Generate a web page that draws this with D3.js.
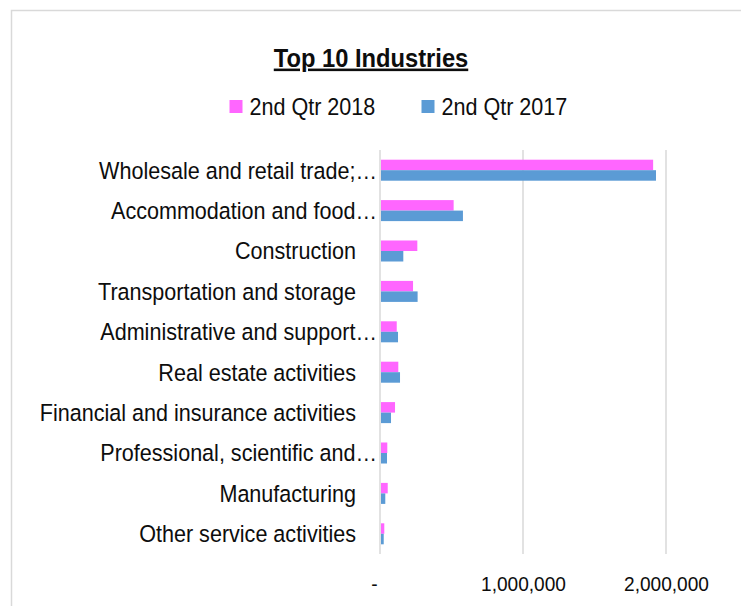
<!DOCTYPE html>
<html>
<head>
<meta charset="utf-8">
<script src="https://cdn.jsdelivr.net/npm/d3@7"></script>
<style>
  body { margin: 0; background: #fff; }
  svg { display: block; font-family: "Liberation Sans", Arial, sans-serif; }
</style>
</head>
<body>
<div id="chart"></div>
<script>
// industries, top to bottom
var industries = [
    "Wholesale and retail trade;\u2026",
    "Accommodation and food\u2026",
    "Construction",
    "Transportation and storage",
    "Administrative and support\u2026",
    "Real estate activities",
    "Financial and insurance activities",
    "Professional, scientific and\u2026",
    "Manufacturing",
    "Other service activities"
];
var seriesNames = ["2nd Qtr 2018", "2nd Qtr 2017"];
var q2018 = [1910000, 515000, 261000, 231000, 117000, 128000, 105000, 51000, 54000, 30000];
var q2017 = [1930000, 580000, 163000, 263000, 126000, 140000, 77000, 49000, 37000, 26000];
var tickValues = [0, 1000000, 2000000];
var colors = ["#ff66ff", "#5b9bd5"];

var width = 741, height = 606;
var sx = 0.91; // text in the original looks a bit condensed

var svg = d3.select("#chart").append("svg")
    .attr("width", width)
    .attr("height", height);

// chart area border (runs off the right and bottom edge)
svg.append("rect")
    .attr("x", 11.5).attr("y", 10.5)
    .attr("width", 760).attr("height", 640)
    .attr("fill", "#fff")
    .attr("stroke", "#d9d9d9")
    .attr("stroke-width", 1.5);

var data = industries.map(function(name, i) {
    return {name: name, values: [q2018[i], q2017[i]]};
});

var x = d3.scaleLinear().domain([0, 2500000]).range([380, 737.5]);
var y0 = d3.scaleBand().domain(industries).range([150, 554])
    .paddingInner(0.48).paddingOuter(0.24);
var y1 = d3.scaleBand().domain(seriesNames).range([0, y0.bandwidth()]);

// gridlines
svg.append("g")
    .selectAll("line")
    .data(tickValues)
    .join("line")
    .attr("x1", function(d) { return x(d); })
    .attr("x2", function(d) { return x(d); })
    .attr("y1", 150)
    .attr("y2", 554)
    .attr("stroke", "#d9d9d9")
    .attr("stroke-width", 1.5);

// bars
var groups = svg.append("g")
    .selectAll("g")
    .data(data)
    .join("g")
    .attr("transform", function(d) { return "translate(0," + y0(d.name) + ")"; });

groups.selectAll("rect")
    .data(function(d) { return d.values.map(function(v, i) { return {key: seriesNames[i], value: v, i: i}; }); })
    .join("rect")
    .attr("x", x(0) + 1)
    .attr("y", function(d) { return y1(d.key); })
    .attr("width", function(d) { return x(d.value) - x(0) - 1; })
    .attr("height", y1.bandwidth())
    .attr("fill", function(d) { return colors[d.i]; });

// category labels
svg.append("g")
    .selectAll("text")
    .data(industries)
    .join("text")
    .attr("transform", function(d) {
        var lx = d.slice(-1) === "\u2026" ? 377 : 356;
        var ly = y0(d) + y0.bandwidth() / 2;
        return "translate(" + lx + "," + ly + ") scale(" + sx + ",1)";
    })
    .attr("dy", "0.35em")
    .attr("text-anchor", "end")
    .attr("font-size", "23.7px")
    .attr("fill", "#0d0d0d")
    .text(function(d) { return d; });

// x axis labels
var xAxis = d3.axisBottom(x)
    .tickValues(tickValues)
    .tickSize(0)
    .tickPadding(0)
    .tickFormat(function(d) { return d === 0 ? "-" : d3.format(",")(d); });

var ax = svg.append("g")
    .attr("transform", "translate(0,575)")
    .call(xAxis);
ax.select(".domain").remove();
ax.selectAll("text")
    .attr("font-family", "Liberation Sans, Arial, sans-serif")
    .attr("font-size", "21px")
    .attr("fill", "#0d0d0d")
    .attr("dy", "0.75em")
    .attr("transform", function(d) { return (d === 0 ? "translate(-6,0) " : "") + "scale(" + sx + ",1)"; });

// title
svg.append("text")
    .attr("transform", "translate(371,66.5) scale(0.93,1)")
    .attr("text-anchor", "middle")
    .attr("font-size", "25.5px")
    .attr("font-weight", "bold")
    .attr("text-decoration", "underline")
    .attr("fill", "#0d0d0d")
    .text("Top 10 Industries");

// legend
var legendX = [229.5, 421.5];
var legend = svg.append("g")
    .selectAll("g")
    .data(seriesNames)
    .join("g")
    .attr("transform", function(d, i) { return "translate(" + legendX[i] + ",100)"; });

legend.append("rect")
    .attr("width", 13)
    .attr("height", 13)
    .attr("fill", function(d, i) { return colors[i]; });

legend.append("text")
    .attr("transform", "translate(20,15) scale(" + sx + ",1)")
    .attr("font-size", "23.7px")
    .attr("fill", "#0d0d0d")
    .text(function(d) { return d; });
</script>
</body>
</html>
